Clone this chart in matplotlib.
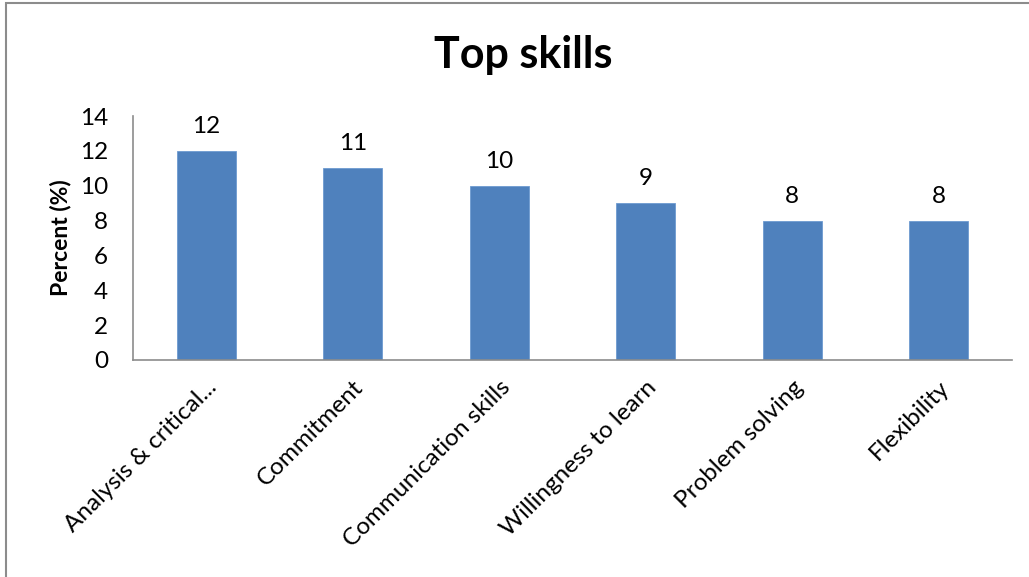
import matplotlib.pyplot as plt
from matplotlib.patches import Rectangle

skills = ['Analysis & critical...', 'Commitment', 'Communication skills',
          'Willingness to learn', 'Problem solving', 'Flexibility']
percent = [12, 11, 10, 9, 8, 8]
y_ticks = [0, 2, 4, 6, 8, 10, 12, 14]

plt.rcParams['font.family'] = ['Lato', 'DejaVu Sans']

W, H = 1029, 577
fig = plt.figure(figsize=(W / 100, H / 100), dpi=100)

# chart area border (only top and left edges visible)
fig.patches.append(Rectangle((6 / W, -0.1), 1.2, (H - 3) / H + 0.1,
                             transform=fig.transFigure, fill=False,
                             edgecolor='#8c8c8c', linewidth=1.5))

ax = fig.add_axes([133 / W, (H - 360) / H, (1012 - 133) / W, (360 - 116) / H])

x = range(len(skills))
bars = ax.bar(x, percent, width=0.4, color='#4F81BD', edgecolor='#6d9bd1', linewidth=0.6)

for xi, v in zip(x, percent):
    ax.annotate(str(v), (xi, v), xytext=(0, 10), textcoords='offset points',
                ha='center', va='bottom', fontsize=17.5)

ax.set_xlim(-0.5, len(skills) - 0.5)
ax.set_ylim(0, 14)
ax.set_yticks(y_ticks)
ax.tick_params(axis='both', length=0, labelsize=17.5)
ax.tick_params(axis='y', pad=18)
ax.set_xticks(list(x))
ax.set_xticklabels(skills, rotation=45, ha='right', va='top', rotation_mode='anchor')
ax.tick_params(axis='x', pad=12)

for side in ['top', 'right']:
    ax.spines[side].set_visible(False)
for side in ['left', 'bottom']:
    ax.spines[side].set_color('#8c8c8c')
    ax.spines[side].set_linewidth(1.2)

ax.set_ylabel('Percent (%)', fontsize=16.5, fontweight='bold', labelpad=6)
fig.text(523 / W, (H - 55) / H, 'Top skills', ha='center', va='center',
         fontsize=31, fontweight='bold')

fig.savefig('out.png', dpi=100)
